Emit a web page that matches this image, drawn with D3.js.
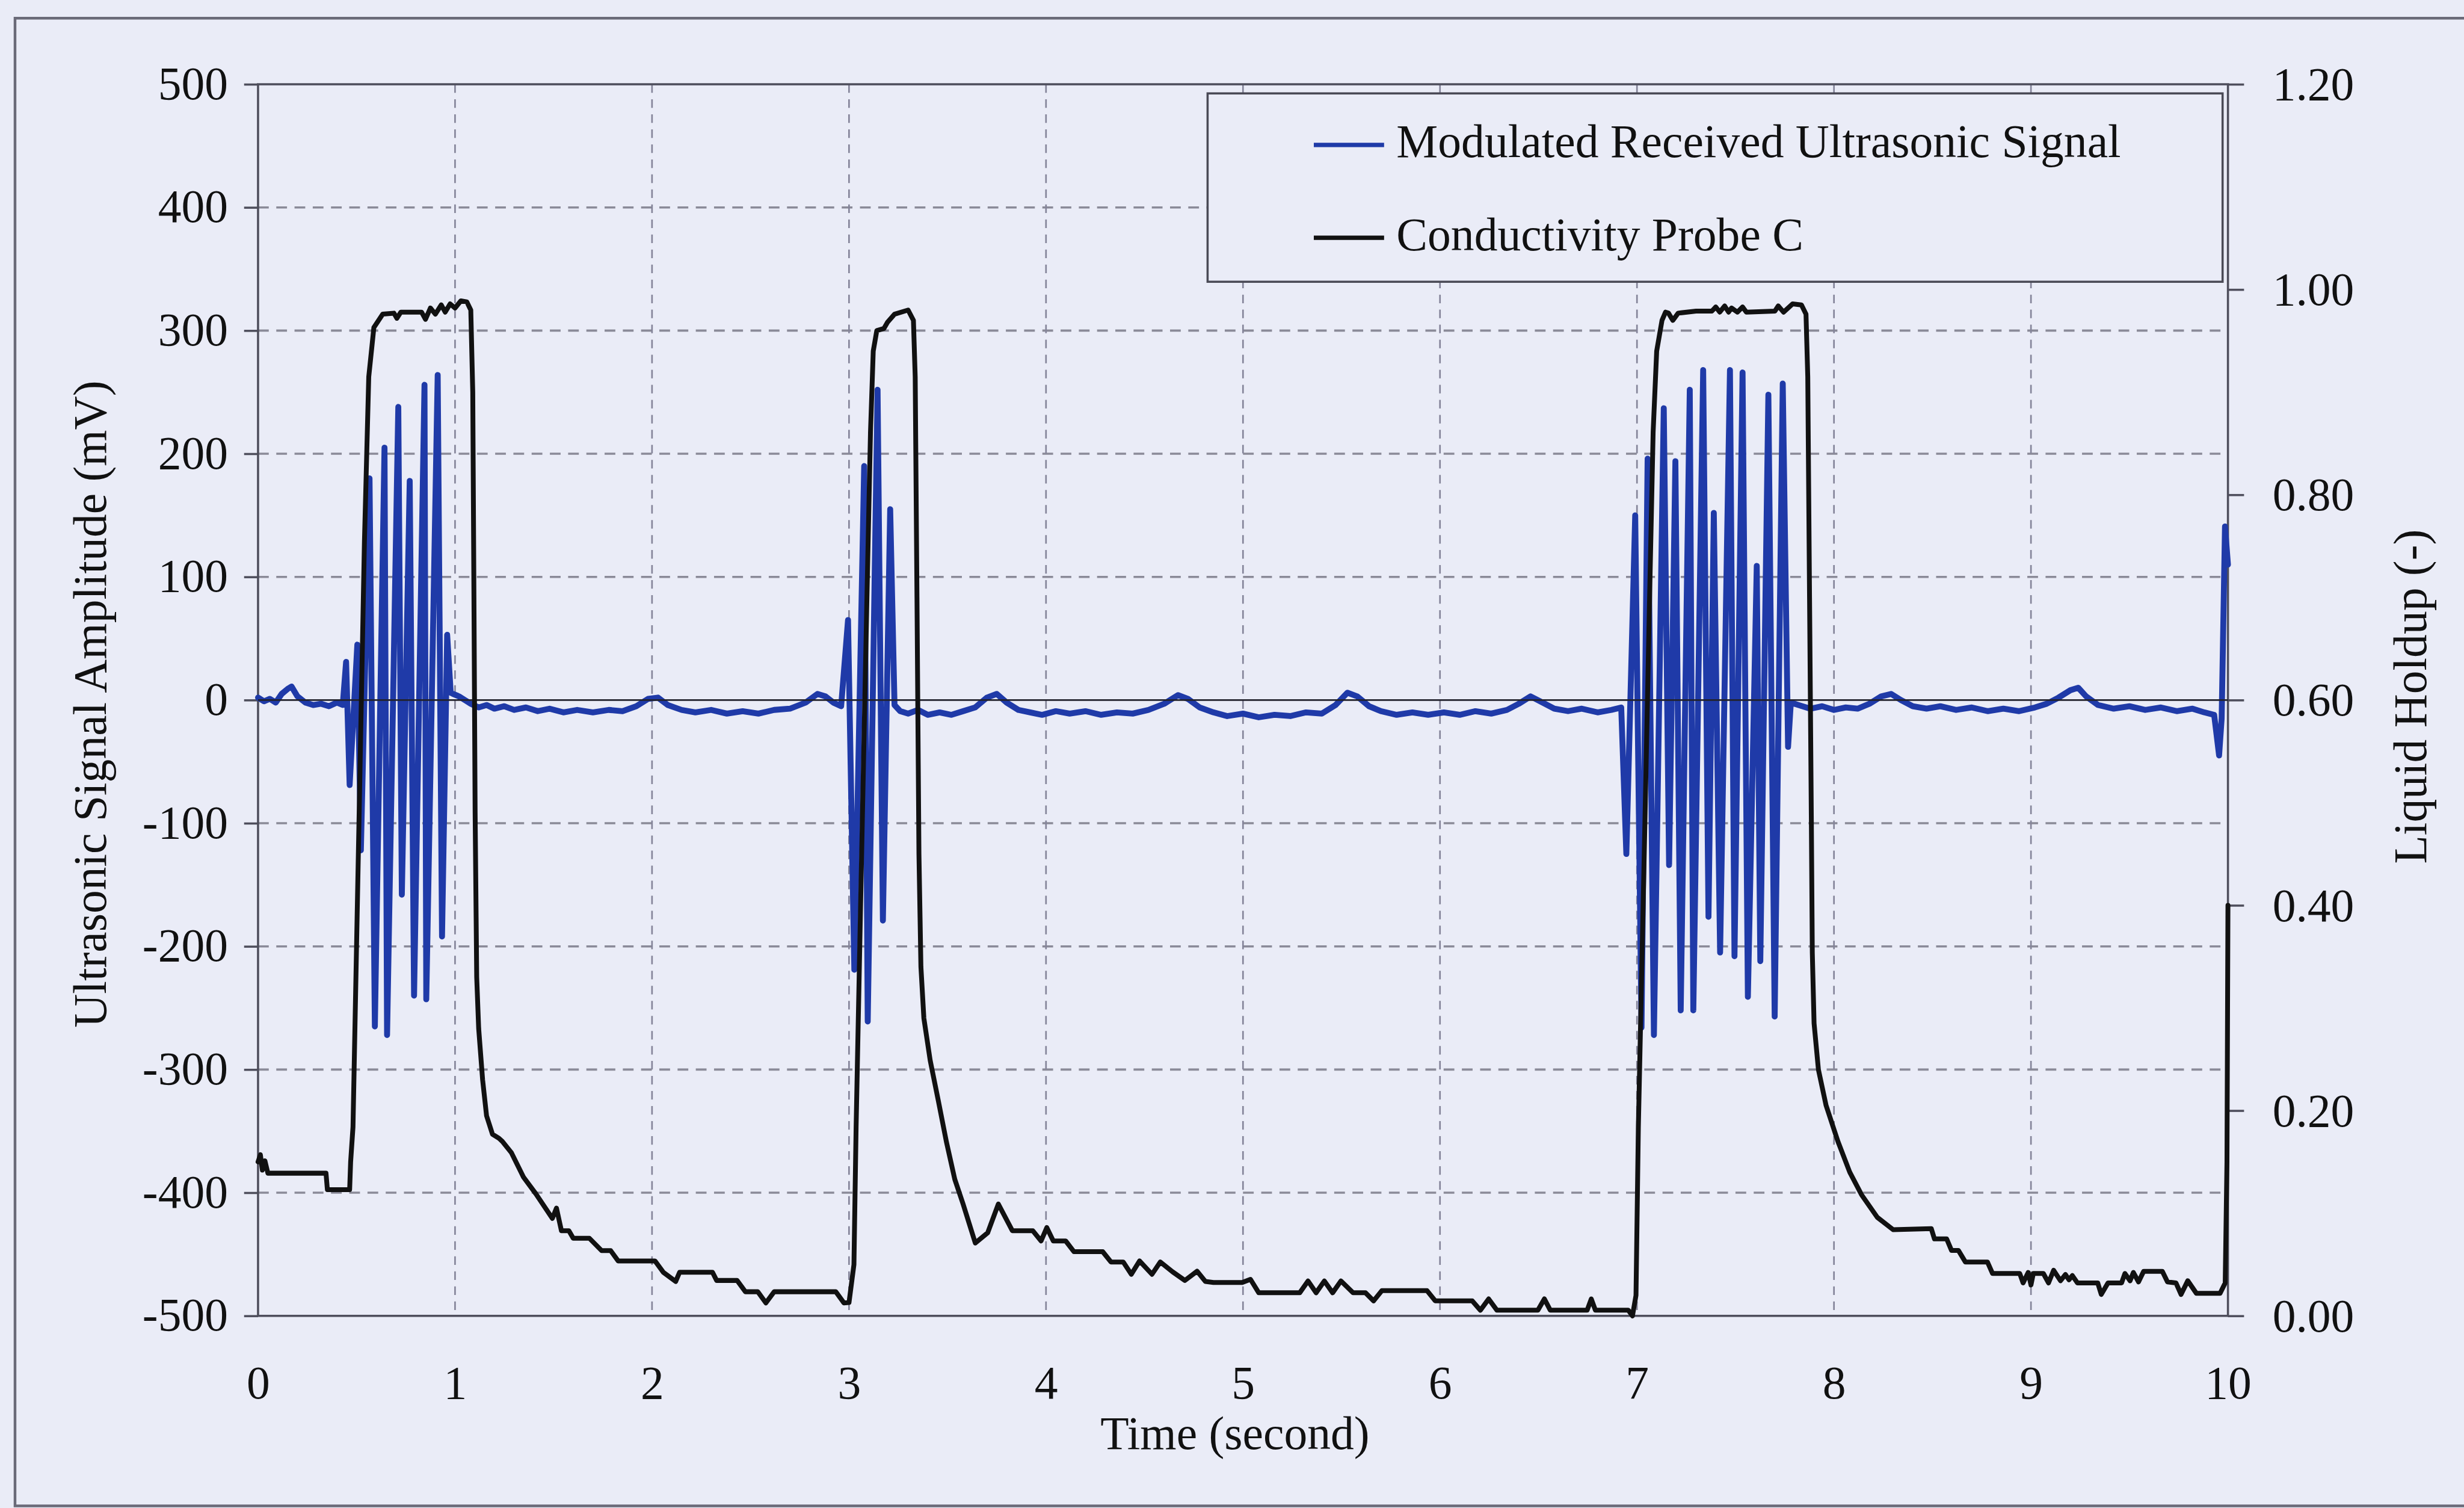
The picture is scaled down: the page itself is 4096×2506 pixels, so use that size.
<!DOCTYPE html>
<html>
<head>
<meta charset="utf-8">
<script src="https://cdn.jsdelivr.net/npm/d3@7"></script>
<style>
  html, body { margin: 0; padding: 0; background: #eaecf7; overflow: hidden; }
  svg { display: block; }
  text { font-family: "Liberation Serif", "Times New Roman", serif; fill: #111; }
</style>
</head>
<body>
<svg id="chart" width="4096" height="2506" viewBox="0 0 4593 2810"></svg>
<script>
// ---- axis ticks ----
const timeTicks = [0, 1, 2, 3, 4, 5, 6, 7, 8, 9, 10];
const signalTicks = [-500, -400, -300, -200, -100, 0, 100, 200, 300, 400, 500];
const holdupTicks = [0, 0.2, 0.4, 0.6, 0.8, 1.0, 1.2];
const signalGrid = [-400, -300, -200, -100, 100, 200, 300, 400];
const timeGrid = [1, 2, 3, 4, 5, 6, 7, 8, 9];

// ---- series labels ----
const seriesNames = ["Modulated Received Ultrasonic Signal", "Conductivity Probe C"];

// ---- modulated received ultrasonic signal (s, mV) ----
const signalTime = [
  0.00, 0.03, 0.06, 0.09, 0.12, 0.15, 0.17, 0.20, 0.24, 0.28, 0.32, 0.36, 0.40, 0.43,
  0.447, 0.465, 0.504, 0.522, 0.566, 0.593, 0.642, 0.655, 0.712, 0.730, 0.770, 0.792,
  0.845, 0.854, 0.912, 0.934, 0.960, 0.978,
  0.99, 1.02, 1.05, 1.08, 1.12, 1.16, 1.20, 1.25, 1.30, 1.36, 1.42, 1.48, 1.55, 1.62,
  1.70, 1.78, 1.85, 1.92, 1.98, 2.03, 2.08, 2.15, 2.22, 2.30, 2.38, 2.46, 2.54, 2.62,
  2.70, 2.78, 2.84, 2.88, 2.92, 2.96,
  2.995, 3.027, 3.077, 3.095, 3.145, 3.172, 3.209, 3.231,
  3.26, 3.30, 3.35, 3.40, 3.46, 3.52, 3.58, 3.64, 3.70, 3.75, 3.80, 3.86, 3.92, 3.98,
  4.05, 4.12, 4.20, 4.28, 4.36, 4.44, 4.52, 4.60, 4.67, 4.72, 4.78, 4.85, 4.92, 5.00,
  5.08, 5.16, 5.24, 5.32, 5.40, 5.47, 5.53, 5.58, 5.64, 5.70, 5.78, 5.86, 5.94, 6.02,
  6.10, 6.18, 6.26, 6.34, 6.40, 6.46, 6.52, 6.58, 6.65, 6.72, 6.80, 6.87, 6.92,
  6.946, 6.991, 7.023, 7.054, 7.086, 7.136, 7.163, 7.195, 7.222, 7.268, 7.286, 7.336,
  7.363, 7.390, 7.422, 7.472, 7.495, 7.536, 7.563, 7.608, 7.626, 7.667, 7.699, 7.740,
  7.767, 7.781,
  7.82, 7.88, 7.94, 8.00, 8.06, 8.12, 8.18, 8.24, 8.29, 8.34, 8.40, 8.47, 8.54, 8.62,
  8.70, 8.78, 8.86, 8.94, 9.02, 9.08, 9.14, 9.20, 9.24, 9.28, 9.34, 9.42, 9.50, 9.58,
  9.66, 9.74, 9.82, 9.88, 9.93, 9.955, 9.968, 9.985, 10.0
];
const signalMV = [
  2, -1, 1, -2, 5, 9, 11, 3, -2, -4, -3, -5, -2, -4,
  31, -69, 45, -122, 180, -265, 205, -272, 238, -158, 178, -240,
  256, -243, 264, -192, 53, 6,
  5, 3, 0, -3, -6, -4, -7, -5, -8, -6, -9, -7, -10, -8,
  -10, -8, -9, -5, 1, 2, -4, -8, -10, -8, -11, -9, -11, -8,
  -7, -2, 5, 3, -2, -5,
  65, -219, 190, -261, 252, -179, 155, -4,
  -9, -11, -8, -12, -10, -12, -9, -6, 2, 5, -2, -8, -10, -12,
  -9, -11, -9, -12, -10, -11, -8, -3, 4, 1, -6, -10, -13, -11,
  -14, -12, -13, -10, -11, -4, 6, 3, -5, -9, -12, -10, -12, -10,
  -12, -9, -11, -8, -3, 3, -2, -7, -9, -7, -10, -8, -6,
  -125, 150, -266, 196, -272, 237, -134, 194, -252, 252, -252, 268,
  -176, 152, -205, 268, -208, 266, -241, 109, -212, 248, -257, 257,
  -38, -2,
  -4, -7, -5, -8, -6, -7, -3, 3, 5, 0, -5, -7, -5, -8,
  -6, -9, -7, -9, -6, -3, 2, 8, 10, 3, -4, -7, -5, -8,
  -6, -9, -7, -10, -12, -45, -15, 141, 110
];

// ---- conductivity probe C liquid holdup (s, -) ----
const probeTime = [
  0.000, 0.012, 0.022, 0.035, 0.050, 0.150, 0.345, 0.352, 0.465, 0.470, 0.482, 0.513,
  0.540, 0.562, 0.588, 0.633, 0.690, 0.705, 0.725, 0.800, 0.830, 0.850, 0.875, 0.900,
  0.930, 0.950, 0.975, 1.000, 1.030, 1.060, 1.080, 1.090, 1.096, 1.102, 1.110, 1.120,
  1.140, 1.160, 1.190, 1.223, 1.240, 1.286, 1.348, 1.410, 1.494, 1.515, 1.540, 1.578,
  1.600, 1.682, 1.744, 1.790, 1.828, 2.015, 2.057, 2.120, 2.140, 2.307, 2.328, 2.432,
  2.474, 2.537, 2.578, 2.620, 2.933, 2.974, 3.000, 3.025, 3.036, 3.068, 3.091, 3.109,
  3.123, 3.141, 3.177, 3.195, 3.231, 3.300, 3.327, 3.336, 3.345, 3.355, 3.365, 3.380,
  3.412, 3.454, 3.495, 3.537, 3.579, 3.641, 3.704, 3.758, 3.829, 3.933, 3.975, 4.004,
  4.037, 4.100, 4.142, 4.288, 4.330, 4.392, 4.433, 4.475, 4.538, 4.580, 4.642, 4.705,
  4.767, 4.809, 4.850, 4.996, 5.038, 5.080, 5.288, 5.330, 5.371, 5.413, 5.455, 5.497,
  5.559, 5.622, 5.663, 5.705, 5.934, 5.976, 6.164, 6.205, 6.247, 6.289, 6.497, 6.530,
  6.560, 6.747, 6.768, 6.789, 6.956, 6.977, 6.995, 7.007, 7.041, 7.064, 7.082, 7.100,
  7.127, 7.145, 7.160, 7.182, 7.209, 7.300, 7.380, 7.400, 7.420, 7.445, 7.465, 7.480,
  7.510, 7.536, 7.555, 7.700, 7.717, 7.744, 7.790, 7.835, 7.858, 7.867, 7.876, 7.885,
  7.890, 7.899, 7.921, 7.960, 8.020, 8.080, 8.140, 8.220, 8.300, 8.494, 8.510, 8.572,
  8.597, 8.632, 8.667, 8.779, 8.805, 8.943, 8.960, 8.986, 9.000, 9.012, 9.063, 9.089,
  9.115, 9.150, 9.175, 9.193, 9.210, 9.236, 9.339, 9.357, 9.391, 9.460, 9.477, 9.503,
  9.520, 9.546, 9.572, 9.667, 9.693, 9.736, 9.762, 9.796, 9.840, 9.960, 9.986, 9.995,
  10.000
];
const probeHoldup = [
  0.150, 0.157, 0.142, 0.151, 0.139, 0.139, 0.139, 0.123, 0.123, 0.150, 0.184, 0.487,
  0.754, 0.915, 0.963, 0.976, 0.977, 0.972, 0.978, 0.978, 0.978, 0.971, 0.982, 0.976,
  0.985, 0.978, 0.986, 0.982, 0.989, 0.988, 0.980, 0.900, 0.700, 0.490, 0.330, 0.280,
  0.230, 0.195, 0.177, 0.173, 0.170, 0.159, 0.135, 0.119, 0.095, 0.105, 0.083, 0.083,
  0.0756, 0.0756, 0.0636, 0.0636, 0.0535, 0.0535, 0.0425, 0.0335, 0.0425, 0.0425, 0.0345, 0.0345,
  0.0235, 0.0235, 0.0126, 0.0235, 0.0235, 0.0126, 0.013, 0.050, 0.184, 0.487, 0.700, 0.861,
  0.940, 0.960, 0.962, 0.968, 0.976, 0.980, 0.970, 0.915, 0.700, 0.450, 0.340, 0.290,
  0.249, 0.209, 0.169, 0.133, 0.109, 0.071, 0.081, 0.109, 0.083, 0.083, 0.073, 0.086,
  0.073, 0.073, 0.0625, 0.0625, 0.0525, 0.0525, 0.0405, 0.0535, 0.0405, 0.0525, 0.043, 0.0345,
  0.0435, 0.0335, 0.0325, 0.0325, 0.0356, 0.0225, 0.0225, 0.034, 0.0225, 0.034, 0.0225, 0.034,
  0.0225, 0.0225, 0.0146, 0.0246, 0.0246, 0.0146, 0.0146, 0.0055, 0.0165, 0.0055, 0.0055, 0.0165,
  0.0055, 0.0055, 0.0165, 0.0055, 0.0055, 0.000, 0.020, 0.184, 0.487, 0.700, 0.861, 0.940,
  0.970, 0.978, 0.977, 0.970, 0.977, 0.979, 0.979, 0.983, 0.978, 0.984, 0.978, 0.982,
  0.978, 0.983, 0.978, 0.979, 0.984, 0.978, 0.986, 0.985, 0.976, 0.915, 0.700, 0.487,
  0.354, 0.285, 0.240, 0.205, 0.170, 0.140, 0.118, 0.096, 0.084, 0.085, 0.075, 0.075,
  0.0637, 0.0637, 0.0525, 0.0525, 0.0413, 0.0413, 0.0321, 0.0423, 0.0301, 0.0413, 0.0413, 0.0321,
  0.0444, 0.0342, 0.0403, 0.0352, 0.0393, 0.0321, 0.0321, 0.0209, 0.0321, 0.0321, 0.0413, 0.0342,
  0.0423, 0.0331, 0.0434, 0.0434, 0.0331, 0.0321, 0.0209, 0.0342, 0.0219, 0.0219, 0.0321, 0.150,
  0.400
];

// ---- layout (drawing units = viewBox units) ----
const plot = { left: 481, right: 4153, top: 157, bottom: 2452 };
const bg = "#eaecf7";
const axisColor = "#4e4e5c";
const fontSize = 87;

const svg = d3.select("#chart");

svg.append("rect").attr("x", 0).attr("y", 0).attr("width", 4593).attr("height", 2810).attr("fill", bg);

// outer chart frame
svg.append("path")
  .attr("d", "M4593,34 L28,34 L28,2806 L4593,2806")
  .attr("fill", "none").attr("stroke", "#6a6a78").attr("stroke-width", 5);

const x = d3.scaleLinear().domain([0, 10]).range([plot.left, plot.right]);
const yL = d3.scaleLinear().domain([-500, 500]).range([plot.bottom, plot.top]);
const yR = d3.scaleLinear().domain([0, 1.2]).range([plot.bottom, plot.top]);

// gridlines
const grid = svg.append("g");
grid.selectAll("line.h").data(signalGrid).join("line")
  .attr("class", "h")
  .attr("x1", plot.left).attr("x2", plot.right)
  .attr("y1", d => yL(d)).attr("y2", d => yL(d))
  .attr("stroke", "#8a8a98").attr("stroke-width", 4).attr("stroke-dasharray", "20,14");
grid.selectAll("line.v").data(timeGrid).join("line")
  .attr("class", "v")
  .attr("x1", d => x(d)).attr("x2", d => x(d))
  .attr("y1", plot.top).attr("y2", plot.bottom)
  .attr("stroke", "#85859a").attr("stroke-width", 3).attr("stroke-dasharray", "16,12");

// left axis
const leftAxis = d3.axisLeft(yL).tickValues(signalTicks).tickSize(26).tickSizeOuter(0)
  .tickPadding(30).tickFormat(d => String(d));
const gL = svg.append("g").attr("transform", `translate(${plot.left},0)`).call(leftAxis);

// right axis
const rightAxis = d3.axisRight(yR).tickValues(holdupTicks).tickSize(30).tickSizeOuter(0)
  .tickPadding(53).tickFormat(d3.format(".2f"));
const gR = svg.append("g").attr("transform", `translate(${plot.right},0)`).call(rightAxis);

// bottom axis (labels only)
const bottomAxis = d3.axisBottom(x).tickValues(timeTicks).tickSize(0).tickSizeOuter(0)
  .tickPadding(92).tickFormat(d => String(d));
const gB = svg.append("g").attr("transform", `translate(0,${plot.bottom})`).call(bottomAxis);

[gL, gR, gB].forEach(g => {
  g.select(".domain").remove();
  g.selectAll(".tick line").attr("stroke", axisColor).attr("stroke-width", 4);
  g.selectAll(".tick text")
    .attr("font-family", "'Liberation Serif', 'Times New Roman', serif")
    .attr("font-size", fontSize).attr("fill", "#111");
});
gL.selectAll(".tick text").attr("dy", "0.31em");
gR.selectAll(".tick text").attr("dy", "0.33em");
gB.selectAll(".tick text").attr("dy", "0.71em");

// plot frame
svg.append("rect")
  .attr("x", plot.left).attr("y", plot.top)
  .attr("width", plot.right - plot.left).attr("height", plot.bottom - plot.top)
  .attr("fill", "none").attr("stroke", axisColor).attr("stroke-width", 4);

// legend box (drawn above the gridlines it covers)
const legend = svg.append("g");
legend.append("rect")
  .attr("x", 2251).attr("y", 174).attr("width", 1892).attr("height", 351)
  .attr("fill", bg).attr("stroke", "#4a4a56").attr("stroke-width", 4);

// series
const signalPts = signalTime.map((t, i) => [t, signalMV[i]]);
const probePts = probeTime.map((t, i) => [t, probeHoldup[i]]);

svg.append("path")
  .datum(signalPts)
  .attr("d", d3.line().x(d => x(d[0])).y(d => yL(d[1])))
  .attr("fill", "none").attr("stroke", "#1f3aa8").attr("stroke-width", 11)
  .attr("stroke-linejoin", "round").attr("stroke-linecap", "round");

// zero reference line
svg.append("line")
  .attr("x1", plot.left).attr("x2", plot.right)
  .attr("y1", yL(0)).attr("y2", yL(0))
  .attr("stroke", "#22222c").attr("stroke-width", 3);

svg.append("path")
  .datum(probePts)
  .attr("d", d3.line().x(d => x(d[0])).y(d => yR(d[1])))
  .attr("fill", "none").attr("stroke", "#111111").attr("stroke-width", 9)
  .attr("stroke-linejoin", "round").attr("stroke-linecap", "round");

// legend entries
const legendColors = ["#1f3aa8", "#111111"];
const legendLineY = [270, 443];
const legendTextY = [293, 466];
seriesNames.forEach((name, i) => {
  legend.append("line")
    .attr("x1", 2449).attr("x2", 2580)
    .attr("y1", legendLineY[i]).attr("y2", legendLineY[i])
    .attr("stroke", legendColors[i]).attr("stroke-width", 8);
  legend.append("text")
    .attr("x", 2603).attr("y", legendTextY[i])
    .attr("font-size", fontSize)
    .text(name);
});
legend.raise();

// axis titles
svg.append("text")
  .attr("transform", "translate(197,1312) rotate(-90)")
  .attr("text-anchor", "middle").attr("font-size", fontSize)
  .text("Ultrasonic Signal Amplitude (mV)");

svg.append("text")
  .attr("transform", "translate(4522,1298) rotate(-90)")
  .attr("text-anchor", "middle").attr("font-size", fontSize)
  .text("Liquid Holdup (-)");

svg.append("text")
  .attr("x", 2302).attr("y", 2700)
  .attr("text-anchor", "middle").attr("font-size", fontSize)
  .text("Time (second)");
</script>
</body>
</html>
